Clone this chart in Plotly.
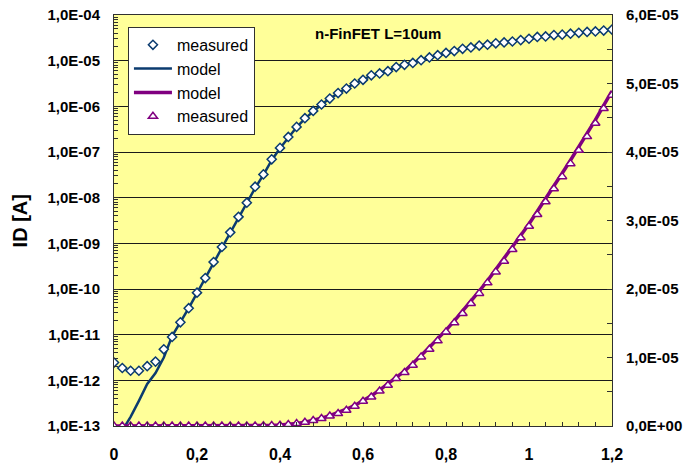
import plotly.graph_objects as go

# ---------------- data ----------------
vg = [0.00, 0.02, 0.04, 0.06, 0.08, 0.10, 0.12, 0.14, 0.16, 0.18,
      0.20, 0.22, 0.24, 0.26, 0.28, 0.30, 0.32, 0.34, 0.36, 0.38,
      0.40, 0.42, 0.44, 0.46, 0.48, 0.50, 0.52, 0.54, 0.56, 0.58,
      0.60, 0.62, 0.64, 0.66, 0.68, 0.70, 0.72, 0.74, 0.76, 0.78,
      0.80, 0.82, 0.84, 0.86, 0.88, 0.90, 0.92, 0.94, 0.96, 0.98,
      1.00, 1.02, 1.04, 1.06, 1.08, 1.10, 1.12, 1.14, 1.16, 1.18, 1.20]

# log10 of ID [A], measured (diamonds, left log axis)
meas_log10 = [-11.61, -11.73, -11.79, -11.79, -11.69, -11.59, -11.32, -11.05, -10.73, -10.42,
              -10.08, -9.76, -9.41, -9.08, -8.76, -8.42, -8.11, -7.76, -7.49, -7.16,
              -6.91, -6.67, -6.45, -6.26, -6.10, -5.96, -5.83, -5.71, -5.61, -5.50,
              -5.42, -5.32, -5.28, -5.23, -5.14, -5.09, -5.05, -4.99, -4.93, -4.88,
              -4.83, -4.79, -4.74, -4.71, -4.67, -4.65, -4.62, -4.60, -4.58, -4.55,
              -4.52, -4.48, -4.47, -4.44, -4.43, -4.41, -4.39, -4.37, -4.36, -4.34, -4.32]

# log10 of ID [A], model (blue line, left log axis)
model_log10 = [-13.40, -13.10, -12.80, -12.45, -12.08, -11.84, -11.50, -11.03, -10.73, -10.42,
               -10.09, -9.77, -9.43, -9.10, -8.77, -8.44, -8.12, -7.79, -7.50, -7.18,
               -6.92, -6.68, -6.46, -6.27, -6.11, -5.96, -5.83, -5.71, -5.60, -5.50,
               -5.41, -5.33, -5.27, -5.21, -5.14, -5.09, -5.04, -4.99, -4.93, -4.88,
               -4.83, -4.79, -4.75, -4.71, -4.68, -4.65, -4.62, -4.60, -4.57, -4.55,
               -4.52, -4.49, -4.47, -4.45, -4.43, -4.41, -4.39, -4.37, -4.36, -4.34, -4.32]

# ID in units of 1e-5 A, measured (triangles, right linear axis)
meas_lin_e5 = [0, 0, 0, 0, 0, 0, 0, 0, 0, 0,
               0, 0, 0, 0, 0, 0, 0.001, 0.002, 0.003, 0.007,
               0.012, 0.021, 0.035, 0.055, 0.080, 0.110, 0.146, 0.181, 0.230, 0.288,
               0.361, 0.424, 0.512, 0.595, 0.693, 0.781, 0.887, 1.009, 1.121, 1.243,
               1.374, 1.506, 1.643, 1.789, 1.936, 2.090, 2.250, 2.405, 2.576, 2.747,
               2.917, 3.088, 3.274, 3.464, 3.640, 3.830, 4.025, 4.225, 4.420, 4.635, 4.830]

# ID in units of 1e-5 A, model (purple line, right linear axis)
model_lin_e5 = [0, 0, 0, 0, 0, 0, 0, 0, 0, 0,
                0, 0, 0, 0, 0, 0, 0.001, 0.002, 0.004, 0.007,
                0.013, 0.022, 0.036, 0.057, 0.083, 0.115, 0.152, 0.195, 0.245, 0.300,
                0.370, 0.440, 0.525, 0.610, 0.710, 0.800, 0.910, 1.030, 1.150, 1.270,
                1.400, 1.535, 1.675, 1.820, 1.970, 2.120, 2.280, 2.440, 2.610, 2.780,
                2.950, 3.130, 3.310, 3.500, 3.690, 3.880, 4.070, 4.270, 4.470, 4.680, 4.890]

x_tickvals = [0, 0.2, 0.4, 0.6, 0.8, 1.0, 1.2]
x_ticktext = ["0", "0,2", "0,4", "0,6", "0,8", "1", "1,2"]
left_exps = [-13, -12, -11, -10, -9, -8, -7, -6, -5, -4]
left_ticktext = ["1,0E-13", "1,0E-12", "1,0E-11", "1,0E-10", "1,0E-09",
                 "1,0E-08", "1,0E-07", "1,0E-06", "1,0E-05", "1,0E-04"]
right_tickvals = [0, 1e-5, 2e-5, 3e-5, 4e-5, 5e-5, 6e-5]
right_ticktext = ["0,0E+00", "1,0E-05", "2,0E-05", "3,0E-05", "4,0E-05", "5,0E-05", "6,0E-05"]

title_text = "n-FinFET L=10um"
y_title = "ID [A]"

# ---------------- styles ----------------
FONT = "Liberation Sans, Arial, sans-serif"
BLUE = "#0b3b6f"
PURPLE = "#800080"
AXC = "#303030"

id_meas = [10 ** v for v in meas_log10]
id_model = [10 ** v for v in model_log10]
id_meas_lin = [v * 1e-5 for v in meas_lin_e5]
id_model_lin = [v * 1e-5 for v in model_lin_e5]

fig = go.Figure()

fig.add_trace(go.Scatter(x=vg, y=id_model, mode="lines", name="model",
                         line=dict(color=BLUE, width=2.5), legendrank=2,
                         yaxis="y"))
fig.add_trace(go.Scatter(x=vg, y=id_meas, mode="markers", name="measured",
                         marker=dict(symbol="diamond", size=7, color="white",
                                     line=dict(color=BLUE, width=1.5)),
                         legendrank=1, yaxis="y"))
fig.add_trace(go.Scatter(x=vg, y=id_model_lin, mode="lines", name="model",
                         line=dict(color=PURPLE, width=3.5), legendrank=3,
                         yaxis="y2"))
fig.add_trace(go.Scatter(x=vg, y=id_meas_lin, mode="markers", name="measured",
                         marker=dict(symbol="triangle-up", size=8, color="white",
                                     line=dict(color=PURPLE, width=1.5)),
                         legendrank=4, yaxis="y2"))

minor_left = [k * 10 ** e for e in range(-13, -4) for k in range(2, 10)]

fig.update_layout(
    width=684, height=464,
    margin=dict(l=114, r=72, t=15, b=38),
    paper_bgcolor="white",
    plot_bgcolor="#FFFF99",
    showlegend=True,
    legend=dict(x=0.028, y=0.971, xanchor="left", yanchor="top",
                bgcolor="white", bordercolor=AXC, borderwidth=1,
                font=dict(family=FONT, size=16, color="black"),
                itemwidth=38, tracegroupgap=0),
    xaxis=dict(range=[0, 1.2], tickmode="array", tickvals=x_tickvals,
               ticktext=x_ticktext, ticks="inside", ticklen=4, tickcolor=AXC,
               showline=True, linecolor=AXC, linewidth=1, mirror=True,
               showgrid=False, zeroline=False, ticklabelstandoff=14,
               automargin=False,
               tickfont=dict(family=FONT, size=16, color="black", weight="bold"),
               minor=dict(dtick=0.04, tick0=0, ticks="inside", ticklen=4,
                          tickcolor=AXC, showgrid=False)),
    yaxis=dict(type="log", range=[-13, -4], tickmode="array",
               tickvals=[10 ** e for e in left_exps], ticktext=left_ticktext,
               ticks="inside", ticklen=5, tickcolor=AXC,
               showline=True, linecolor=AXC, linewidth=1, mirror=False,
               showgrid=True, gridcolor="#1a1a1a", gridwidth=1, zeroline=False,
               ticklabelstandoff=10, automargin=False,
               tickfont=dict(family=FONT, size=15, color="black", weight="bold"),
               minor=dict(tickmode="array", tickvals=minor_left, ticks="inside",
                          ticklen=4, tickcolor=AXC, showgrid=False)),
    yaxis2=dict(overlaying="y", side="right", range=[0, 6e-5], tickmode="array",
                tickvals=right_tickvals, ticktext=right_ticktext,
                ticks="inside", ticklen=5, tickcolor=AXC,
                showline=True, linecolor=AXC, linewidth=1,
                showgrid=False, zeroline=False, ticklabelstandoff=10,
                automargin=False,
                tickfont=dict(family=FONT, size=15, color="black", weight="bold"),
                minor=dict(dtick=5e-6, tick0=0, ticks="inside", ticklen=5,
                           tickcolor=AXC, showgrid=False)),
    annotations=[
        dict(text=title_text, xref="paper", yref="paper", x=0.530, y=0.954,
             xanchor="center", yanchor="middle", showarrow=False,
             font=dict(family=FONT, size=15, color="black", weight="bold")),
        dict(text=y_title, xref="paper", yref="paper", x=-0.189, y=0.5,
             xanchor="center", yanchor="middle", showarrow=False, textangle=-90,
             font=dict(family=FONT, size=20, color="black", weight="bold")),
    ],
)

fig.write_html("out.html")
